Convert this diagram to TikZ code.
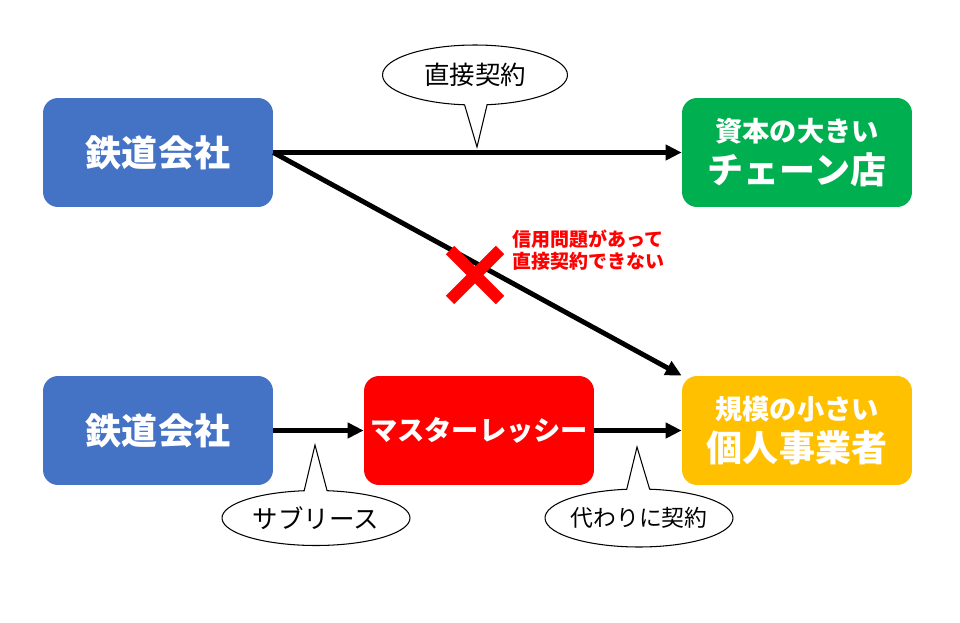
\documentclass[tikz,border=0pt]{standalone}
\usepackage{fontspec}
\setmainfont{Noto Sans CJK JP}
\usetikzlibrary{shapes.callouts,arrows.meta}
\definecolor{railblue}{HTML}{4472C4}
\definecolor{chaingreen}{HTML}{00B050}
\definecolor{lesseered}{HTML}{FF0000}
\definecolor{smallyellow}{HTML}{FFC000}
\tikzset{
  party/.style={rectangle, rounded corners=0.3cm, minimum width=4.6cm, minimum height=2.18cm,
    inner sep=0pt, text=white, font=\bfseries, align=center},
  deal/.style={line width=2.8pt, -{Triangle[length=0.32cm,width=0.3cm]}},
  remark/.style={ellipse callout, draw=black, line width=0.6pt, fill=white, inner sep=0pt,
    callout pointer arc=14, font=\fontsize{14.5}{16}\selectfont}
}
\begin{document}
\begin{tikzpicture}[x=0.02cm, y=-0.02cm]
  \useasboundingbox (0,0) rectangle (960,622);
  % parties
  \node[party, fill=railblue, font=\bfseries\fontsize{20.5}{22}\selectfont] (rail1) at (158,152.5) {鉄道会社};
  \node[party, fill=chaingreen] (chain) at (797,152.5)
    {{\fontsize{15.5}{17}\selectfont 資本の大きい}\\[4pt]{\fontsize{20.5}{22}\selectfont チェーン店}};
  \node[party, fill=railblue, font=\bfseries\fontsize{20.5}{22}\selectfont] (rail2) at (158,430.5) {鉄道会社};
  \node[party, fill=lesseered, font=\bfseries\fontsize{15.5}{17}\selectfont] (master) at (479,430.5) {マスターレッシー};
  \node[party, fill=smallyellow] (owner) at (797,430.5)
    {{\fontsize{15.5}{17}\selectfont 規模の小さい}\\[4pt]{\fontsize{20.5}{22}\selectfont 個人事業者}};

  % contracts
  \draw[deal] (rail1.east) -- (chain.west);
  \draw[deal] (rail1.east) -- (owner.north west);
  \draw[deal] (rail2.east) -- (master.west);
  \draw[deal] (master.east) -- (owner.west);

  % refused contract
  \coordinate (cross) at (475,275);
  \draw[lesseered, line width=0.24cm] ([shift={(-25,-25)}]cross) -- ([shift={(25,25)}]cross);
  \draw[lesseered, line width=0.24cm] ([shift={(-25,25)}]cross) -- ([shift={(25,-25)}]cross);
  \node[anchor=north west, align=left, inner sep=0pt, text=lesseered,
    font=\bfseries\fontsize{10.8}{12}\selectfont] (reason) at (512,230) {信用問題があって\\直接契約できない};

  % callouts
  \node[remark, minimum width=3.7cm, minimum height=1.2cm, callout absolute pointer={(477,147)}] (direct) at (475,75) {直接契約};
  \node[remark, minimum width=3.76cm, minimum height=1.1cm, callout absolute pointer={(315,445)}] (sublease) at (316,518) {サブリース};
  \node[remark, inner xsep=-9pt, font=\fontsize{13}{15}\selectfont, minimum width=3.76cm, minimum height=1.16cm,
    callout absolute pointer={(637,447)}] (instead) at (639,518) {代わりに契約};
\end{tikzpicture}
\end{document}
